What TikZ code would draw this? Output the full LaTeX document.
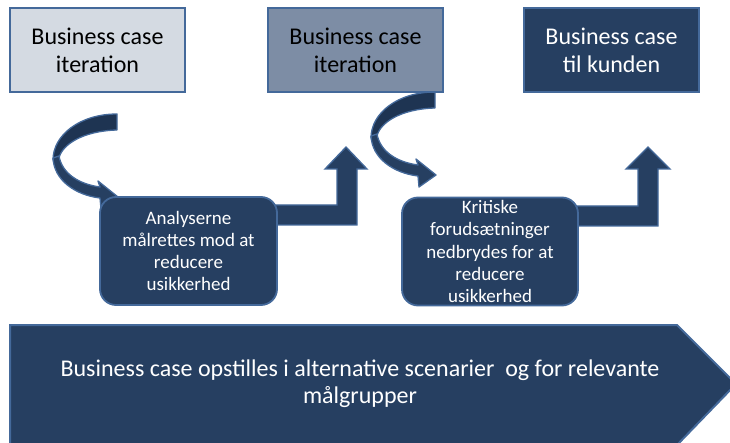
\documentclass[tikz,border=0pt]{standalone}
\usepackage{fontspec}
\setmainfont{Carlito}
\definecolor{boxlight}{HTML}{D4DAE2}
\definecolor{boxmid}{HTML}{7D8DA5}
\definecolor{dkblue}{HTML}{263F61}
\definecolor{arrdark}{HTML}{1E3452}
\definecolor{edgeblue}{HTML}{44699A}
\newcommand\myCurvedArrow[2]{%
  \begin{scope}[shift={(#1,#2)}]
    \filldraw[fill=arrdark, draw=edgeblue, line width=1.3pt, line join=round]
      (117,114) .. controls (80,114) and (53,135) .. (53,160)
      -- (59,158) .. controls (62,145) and (82,131) .. (117,130) -- cycle;
    \filldraw[fill=dkblue, draw=edgeblue, line width=1.3pt, line join=round]
      (53,158) .. controls (54,180) and (75,195) .. (100,198)
      -- (101,209) -- (118,197) -- (98,181) -- (100,187)
      .. controls (78,184) and (62,173) .. (59,156) -- cycle;
  \end{scope}}
\tikzset{
  topbox/.style={draw=edgeblue, line width=2pt, minimum width=175pt, minimum height=84pt,
    align=center, font=\fontsize{24}{28}\selectfont, inner sep=0pt},
  stepbox/.style={draw=edgeblue, fill=dkblue, line width=1.8pt, rounded corners=16pt,
    minimum width=177pt, minimum height=108pt, align=center, text=white,
    font=\fontsize{19}{22.3}\selectfont, inner sep=0pt},
  bentarrow/.style={fill=dkblue, draw=edgeblue, line width=1.3pt},
}
\begin{document}
\begin{tikzpicture}[x=1pt,y=-1pt]
\useasboundingbox (0,0) rectangle (730,443);
\clip (0,0) rectangle (730,443);
% curved arrows
\myCurvedArrow{0}{0}
\myCurvedArrow{318}{-22}
% bent-up arrows
\filldraw[bentarrow] (270,205) -- (337,205) -- (337,169) -- (325,169) -- (346,147)
  -- (367,169) -- (357,169) -- (357,225) -- (270,225) -- cycle;
\filldraw[bentarrow] (570,206) -- (638,206) -- (638,169) -- (626,169) -- (648,147)
  -- (670,169) -- (658,169) -- (658,226) -- (570,226) -- cycle;
% top boxes
\node[topbox, fill=boxlight] (b1) at (97.5,50.5) {Business case\\iteration};
\node[topbox, fill=boxmid] (b2) at (355.5,50.5) {Business case\\iteration};
\node[topbox, fill=dkblue, text=white] (b3) at (611.5,50.5) {Business case\\til kunden};
% step boxes
\node[stepbox] (sa) at (188.5,251) {Analyserne\\målrettes mod at\\reducere\\usikkerhed};
\node[stepbox, minimum width=176pt] (sb) at (490,251.5) {Kritiske\\forudsætninger\\nedbrydes for at\\reducere\\usikkerhed};
% big arrow
\filldraw[fill=dkblue, draw=edgeblue, line width=2pt] (10,325) -- (677,325) -- (736,384) -- (677,445) -- (10,445) -- cycle;
\node[align=center, text=white, font=\fontsize{24}{27}\selectfont] (big) at (360,384)
  {Business case opstilles i alternative scenarier\ \ og for relevante\\målgrupper};
\end{tikzpicture}
\end{document}
